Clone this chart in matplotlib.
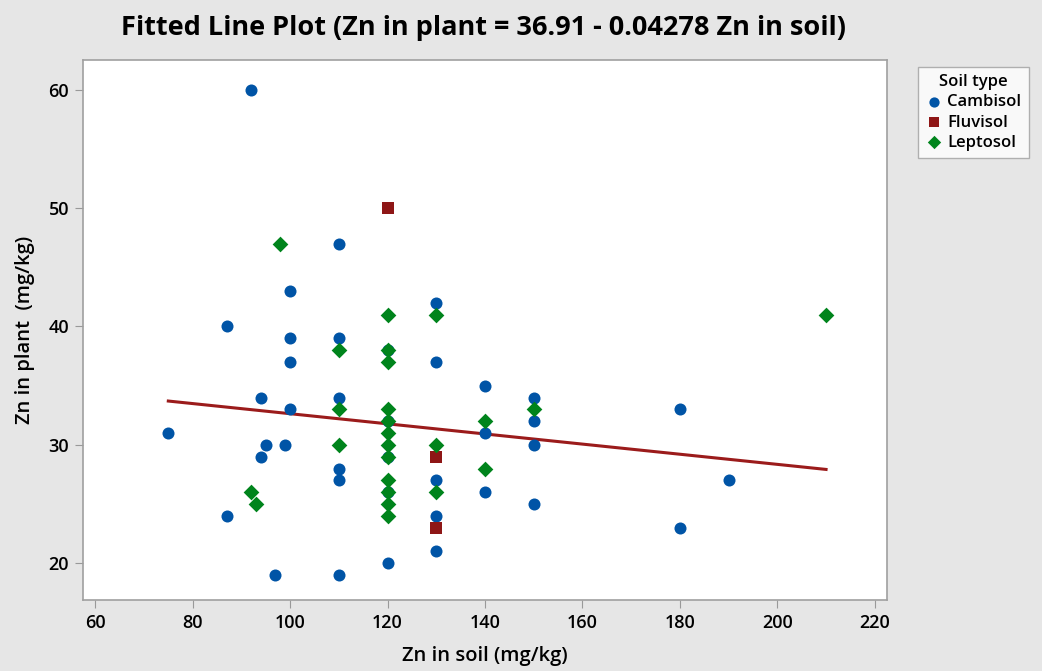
import numpy as np
import matplotlib.pyplot as plt

# Zn in soil / Zn in plant (mg/kg), by soil type
camb_soil = [92, 75, 87, 87, 94, 94, 95, 97, 99, 100, 100, 100, 100,
             110, 110, 110, 110, 110, 110, 120, 120, 120, 120, 120,
             130, 130, 130, 130, 130, 140, 140, 140,
             150, 150, 150, 150, 180, 180, 190]
camb_plant = [60, 31, 40, 24, 34, 29, 30, 19, 30, 43, 39, 37, 33,
              47, 39, 34, 28, 27, 19, 38, 32, 29, 26, 20,
              42, 37, 27, 24, 21, 35, 31, 26,
              34, 32, 30, 25, 33, 23, 27]

fluv_soil = [120, 130, 130]
fluv_plant = [50, 29, 23]

lept_soil = [92, 93, 98, 110, 110, 110,
             120, 120, 120, 120, 120, 120, 120, 120, 120, 120, 120, 120,
             130, 130, 130, 140, 140, 150, 210]
lept_plant = [26, 25, 47, 38, 33, 30,
              41, 38, 37, 33, 32, 31, 30, 29, 27, 26, 25, 24,
              41, 30, 26, 32, 28, 33, 41]

intercept = 36.91
slope = -0.04278

plt.rcParams['font.family'] = ['Open Sans', 'DejaVu Sans']

fig = plt.figure(figsize=(10.42, 6.71), dpi=100)
fig.patch.set_facecolor('#e6e6e6')
ax = fig.add_axes([0.0797, 0.1058, 0.7715, 0.8048])
ax.set_facecolor('white')

ax.scatter(camb_soil, camb_plant, s=75, marker='o', color='#0054a6',
           label='Cambisol', zorder=3, linewidths=0)
ax.scatter(fluv_soil, fluv_plant, s=72, marker='s', color='#8e1616',
           label='Fluvisol', zorder=4, linewidths=0)
ax.scatter(lept_soil, lept_plant, s=64, marker='D', color='#00841c',
           label='Leptosol', zorder=5, linewidths=0)

all_x = camb_soil + fluv_soil + lept_soil
xs = np.array([min(all_x), max(all_x)])
ax.plot(xs, intercept + slope * xs, color='#9b1b1b', lw=2.2, zorder=2)

ax.set_xlim(57.5, 222.5)
ax.set_ylim(16.9, 62.5)
ax.set_xticks(range(60, 221, 20))
ax.set_yticks([20, 30, 40, 50, 60])
ax.tick_params(axis='both', length=6, color='#999999', labelsize=13,
               pad=4)
for lab in ax.get_xticklabels() + ax.get_yticklabels():
    lab.set_fontweight('semibold')
for sp in ax.spines.values():
    sp.set_color('#a0a0a0')
    sp.set_linewidth(1.2)

ax.set_xlabel('Zn in soil (mg/kg)', fontsize=14.5, fontweight='semibold',
              labelpad=10)
ax.set_ylabel('Zn in plant  (mg/kg)', fontsize=14.5, fontweight='semibold',
              labelpad=10)
fig.suptitle('Fitted Line Plot (Zn in plant = 36.91 - 0.04278 Zn in soil)',
             x=0.464, y=0.978, fontsize=19.5, fontweight='bold')

leg = fig.legend(loc='upper left', bbox_to_anchor=(0.873, 0.913),
                 title='Soil type', fontsize=12, title_fontsize=12,
                 frameon=True, fancybox=False, handletextpad=0.3,
                 borderpad=0.45, labelspacing=0.25, handlelength=1.0,
                 markerscale=0.85)
leg.get_frame().set_edgecolor('#a0a0a0')
leg.get_frame().set_linewidth(1.0)
leg.get_title().set_fontweight('semibold')
for t in leg.get_texts():
    t.set_fontweight('semibold')

fig.savefig('out.png', dpi=100, facecolor=fig.get_facecolor())
